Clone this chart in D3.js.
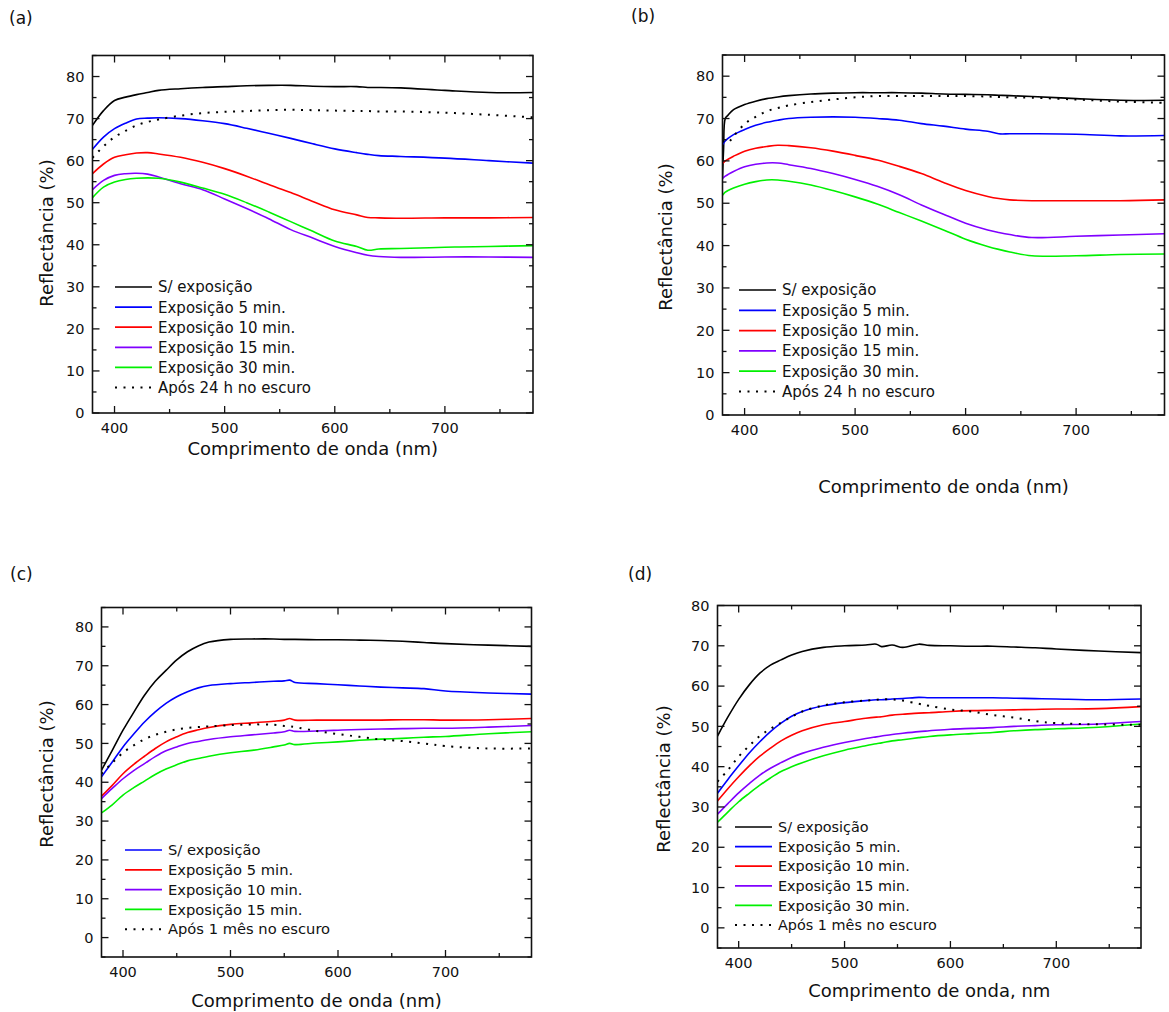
<!DOCTYPE html>
<html>
<head>
<meta charset="utf-8">
<script src="https://cdn.jsdelivr.net/npm/d3@7"></script>
<style>
  body { margin: 0; background: #fff; }
  svg text { font-family: "DejaVu Sans", Verdana, sans-serif; fill: #111; }
</style>
</head>
<body>
<svg id="chart" width="1169" height="1012"></svg>
<script>
// ---- data (wavelength in nm, reflectance in %) ----
var xTicks = [400, 500, 600, 700];
var colors = { black: "#000000", blue: "#0000ff", red: "#ff0000", purple: "#8000ff", green: "#00f000" };

// panel (a)
var waveA = [380, 390, 400, 410, 420, 430, 440, 460, 480, 500, 520, 540, 560, 580, 600, 620, 630, 640, 660, 700, 740, 780];
var aBlack  = [68.4, 71.9, 74.3, 75.1, 75.7, 76.2, 76.7, 77.1, 77.4, 77.6, 77.8, 77.9, 77.9, 77.7, 77.6, 77.6, 77.4, 77.4, 77.3, 76.7, 76.2, 76.2];
var aBlue   = [62.7, 65.6, 67.6, 68.9, 69.9, 70.1, 70.2, 70.0, 69.5, 68.8, 67.7, 66.5, 65.3, 64.0, 62.8, 61.9, 61.5, 61.2, 61.0, 60.6, 60.0, 59.4];
var aRed    = [56.9, 59.2, 60.8, 61.4, 61.8, 61.9, 61.6, 60.8, 59.6, 58.1, 56.3, 54.3, 52.4, 50.3, 48.3, 47.1, 46.5, 46.4, 46.3, 46.4, 46.4, 46.5];
var aPurple = [53.1, 55.3, 56.5, 56.9, 57.0, 56.8, 56.1, 54.5, 53.1, 50.9, 48.6, 46.2, 43.6, 41.6, 39.6, 38.1, 37.5, 37.2, 37.0, 37.1, 37.1, 37.0];
var aGreen  = [51.2, 53.7, 54.9, 55.5, 55.8, 55.9, 55.8, 54.9, 53.5, 52.0, 50.0, 47.8, 45.5, 43.2, 40.9, 39.6, 38.7, 39.0, 39.1, 39.4, 39.6, 39.8];
var aDark   = [60.7, 63.4, 65.6, 67.1, 68.4, 69.2, 69.8, 70.7, 71.3, 71.6, 71.8, 72.0, 72.1, 72.0, 71.9, 71.8, 71.8, 71.7, 71.7, 71.4, 70.9, 70.3];

// panel (b)
var waveB = [380, 381, 382.5, 385, 390, 400, 410, 420, 430, 440, 460, 480, 500, 520, 540, 560, 580, 600, 620, 630, 640, 660, 700, 740, 780];
var bBlack  = [56.0, 63.0, 70.0, 70.8, 72.1, 73.3, 74.1, 74.7, 75.1, 75.4, 75.8, 76.0, 76.1, 76.1, 76.1, 76.0, 75.8, 75.7, 75.6, 75.5, 75.4, 75.2, 74.7, 74.3, 74.3];
var bBlue   = [63.8, 64.2, 64.7, 65.3, 66.2, 67.4, 68.4, 69.1, 69.6, 70.0, 70.3, 70.4, 70.3, 70.0, 69.6, 68.8, 68.2, 67.5, 67.0, 66.4, 66.4, 66.4, 66.3, 65.9, 66.0];
var bRed    = [59.3, 59.6, 60.0, 60.4, 61.1, 62.3, 63.0, 63.4, 63.7, 63.6, 63.1, 62.3, 61.3, 60.2, 58.7, 57.0, 54.9, 53.0, 51.6, 51.1, 50.8, 50.6, 50.6, 50.6, 50.8];
var bPurple = [55.8, 56.1, 56.4, 56.8, 57.5, 58.6, 59.2, 59.5, 59.5, 59.1, 58.2, 57.0, 55.6, 54.0, 52.0, 49.6, 47.4, 45.3, 43.7, 43.1, 42.6, 41.9, 42.2, 42.5, 42.8];
var bGreen  = [51.9, 52.2, 52.6, 53.0, 53.6, 54.5, 55.1, 55.5, 55.5, 55.2, 54.3, 53.0, 51.5, 49.8, 47.8, 45.8, 43.7, 41.5, 39.8, 39.1, 38.5, 37.6, 37.6, 37.9, 38.0];
var bDark   = [64.5, 64.6, 64.4, 64.3, 65.8, 68.7, 70.4, 71.7, 72.5, 73.1, 73.9, 74.5, 75.0, 75.3, 75.3, 75.3, 75.3, 75.3, 75.2, 75.1, 75.0, 74.9, 74.5, 74.0, 73.7];

// panel (c)
var waveC = [380, 390, 400, 410, 420, 430, 440, 450, 460, 470, 480, 500, 520, 540, 550, 555, 560, 580, 600, 620, 640, 660, 680, 700, 740, 780];
var cBlack  = [43.1, 48.2, 53.4, 58.0, 62.4, 66.0, 68.8, 71.5, 73.6, 75.1, 76.1, 76.8, 76.9, 76.9, 76.8, 76.8, 76.8, 76.7, 76.7, 76.6, 76.5, 76.3, 76.0, 75.7, 75.3, 75.0];
var cBlue   = [41.4, 45.2, 49.1, 52.4, 55.5, 58.1, 60.3, 62.0, 63.3, 64.3, 64.9, 65.4, 65.7, 66.0, 66.1, 66.3, 65.7, 65.4, 65.1, 64.8, 64.5, 64.3, 64.1, 63.5, 63.0, 62.7];
var cRed    = [36.4, 39.2, 42.2, 44.6, 46.7, 48.7, 50.4, 51.7, 52.8, 53.5, 54.1, 54.9, 55.3, 55.7, 56.0, 56.4, 56.0, 56.0, 56.0, 56.0, 56.0, 56.1, 56.1, 56.0, 56.1, 56.4];
var cPurple = [35.8, 38.4, 40.9, 43.0, 44.8, 46.6, 48.1, 49.1, 50.0, 50.5, 51.0, 51.7, 52.2, 52.7, 53.0, 53.4, 53.1, 53.2, 53.4, 53.6, 53.7, 53.8, 53.9, 53.9, 54.2, 54.6];
var cGreen  = [32.1, 34.2, 36.7, 38.6, 40.3, 42.0, 43.4, 44.5, 45.5, 46.1, 46.7, 47.6, 48.2, 49.1, 49.6, 50.0, 49.7, 50.1, 50.4, 50.8, 51.1, 51.3, 51.6, 51.8, 52.5, 53.0];
var cDark   = [42.2, 45.0, 47.6, 49.5, 51.1, 52.2, 53.0, 53.6, 54.0, 54.2, 54.4, 54.7, 54.9, 54.8, 54.5, 54.4, 54.2, 53.2, 52.4, 51.7, 51.0, 50.6, 50.0, 49.3, 48.7, 48.7];

// panel (d)
var waveD = [380, 390, 400, 410, 420, 430, 440, 450, 460, 480, 500, 520, 530, 535, 545, 555, 570, 580, 600, 620, 640, 660, 680, 700, 740, 780];
var dBlack  = [47.6, 52.4, 56.7, 60.3, 63.2, 65.2, 66.5, 67.7, 68.6, 69.6, 70.0, 70.2, 70.4, 69.8, 70.2, 69.6, 70.4, 70.1, 70.0, 69.9, 69.9, 69.7, 69.5, 69.2, 68.7, 68.3];
var dBlue   = [33.4, 36.9, 40.2, 43.4, 46.2, 48.7, 50.8, 52.5, 53.7, 55.1, 55.9, 56.4, 56.6, 56.6, 56.8, 56.9, 57.2, 57.1, 57.1, 57.1, 57.1, 57.0, 56.9, 56.8, 56.6, 56.8];
var dRed    = [31.5, 34.6, 37.5, 40.2, 42.6, 44.6, 46.4, 47.8, 48.9, 50.4, 51.2, 52.0, 52.3, 52.4, 52.8, 53.0, 53.3, 53.4, 53.7, 53.9, 54.0, 54.1, 54.2, 54.3, 54.4, 54.9];
var dPurple = [28.2, 30.9, 33.5, 35.8, 37.9, 39.6, 41.0, 42.3, 43.3, 44.8, 46.0, 47.0, 47.4, 47.6, 48.0, 48.3, 48.7, 48.9, 49.3, 49.5, 49.7, 50.0, 50.2, 50.4, 50.6, 51.2];
var dGreen  = [26.2, 28.8, 31.3, 33.4, 35.4, 37.2, 38.8, 40.0, 41.0, 42.7, 44.1, 45.2, 45.7, 45.9, 46.4, 46.7, 47.2, 47.5, 47.9, 48.2, 48.5, 48.9, 49.2, 49.4, 49.8, 50.6];
var dDark   = [36.3, 39.2, 42.5, 45.2, 47.6, 49.4, 50.9, 52.4, 53.7, 55.2, 56.0, 56.4, 56.6, 56.7, 56.7, 56.4, 55.6, 55.1, 54.2, 53.7, 52.8, 52.2, 51.3, 50.8, 50.5, 50.4];

var legendAB = ["S/ exposição", "Exposição 5 min.", "Exposição 10 min.", "Exposição 15 min.", "Exposição 30 min.", "Após 24 h no escuro"];
var legendC  = ["S/ exposição", "Exposição 5 min.", "Exposição 10 min.", "Exposição 15 min.", "Após 1 mês no escuro"];
var legendD  = ["S/ exposição", "Exposição 5 min.", "Exposição 10 min.", "Exposição 15 min.", "Exposição 30 min.", "Após 1 mês no escuro"];

var svg = d3.select("#chart");
var DOTS = "2,6.5";

function panel(p) {
	var x = d3.scaleLinear().domain([380, 780]).range([p.left, p.right]);
	var y = d3.scaleLinear().domain(p.yDom).range([p.bottom, p.top]);
	var g = svg.append("g");

	g.append("text").attr("x", p.tagX).attr("y", p.tagY)
		.style("font-size", "17px").text(p.tag);

	var clipId = "clip" + p.tag.replace(/\W/g, "");
	svg.append("clipPath").attr("id", clipId).append("rect")
		.attr("x", p.left).attr("y", p.top)
		.attr("width", p.right - p.left).attr("height", p.bottom - p.top);

	var line = d3.line().curve(d3.curveCatmullRom.alpha(0.5))
		.x(function(d) { return x(d[0]); })
		.y(function(d) { return y(d[1]); });

	var plot = g.append("g").attr("clip-path", "url(#" + clipId + ")");
	p.series.forEach(function(s) {
		var pts = p.wave.map(function(w, i) { return [w, s.vals[i]]; });
		plot.append("path").datum(pts)
			.attr("d", line)
			.attr("fill", "none")
			.attr("stroke", s.color)
			.attr("stroke-width", s.dash ? 2 : 1.6)
			.attr("stroke-dasharray", s.dash ? DOTS : null);
	});

	// ticks inside, on all four sides
	var major = d3.range(Math.ceil(p.yDom[0] / 10) * 10, p.yDom[1] + 0.1, 10);
	var minor = d3.range(Math.ceil(p.yDom[0] / 5) * 5, p.yDom[1] + 0.1, 5)
		.filter(function(v) { return v % 10 !== 0; });
	var xMinor = [450, 550, 650, 750];

	var ax = g.append("g").attr("stroke", "#111").attr("stroke-width", 1.3);
	major.forEach(function(v) {
		ax.append("line").attr("x1", p.left).attr("x2", p.left + 7).attr("y1", y(v)).attr("y2", y(v));
		ax.append("line").attr("x1", p.right).attr("x2", p.right - 7).attr("y1", y(v)).attr("y2", y(v));
	});
	minor.forEach(function(v) {
		ax.append("line").attr("x1", p.left).attr("x2", p.left + 4).attr("y1", y(v)).attr("y2", y(v));
		ax.append("line").attr("x1", p.right).attr("x2", p.right - 4).attr("y1", y(v)).attr("y2", y(v));
	});
	xTicks.forEach(function(v) {
		ax.append("line").attr("x1", x(v)).attr("x2", x(v)).attr("y1", p.bottom).attr("y2", p.bottom - 7);
		ax.append("line").attr("x1", x(v)).attr("x2", x(v)).attr("y1", p.top).attr("y2", p.top + 7);
	});
	xMinor.forEach(function(v) {
		ax.append("line").attr("x1", x(v)).attr("x2", x(v)).attr("y1", p.bottom).attr("y2", p.bottom - 4);
		ax.append("line").attr("x1", x(v)).attr("x2", x(v)).attr("y1", p.top).attr("y2", p.top + 4);
	});
	g.append("rect")
		.attr("x", p.left).attr("y", p.top)
		.attr("width", p.right - p.left).attr("height", p.bottom - p.top)
		.attr("fill", "none").attr("stroke", "#111").attr("stroke-width", 1.6);

	major.filter(function(v) { return v >= 0; }).forEach(function(v) {
		g.append("text").attr("x", p.left - 8).attr("y", y(v)).attr("dy", "0.36em")
			.attr("text-anchor", "end").style("font-size", "14.5px").text(v);
	});
	xTicks.forEach(function(v) {
		g.append("text").attr("x", x(v)).attr("y", p.bottom + 15).attr("dy", "0.36em")
			.attr("text-anchor", "middle").style("font-size", "14.5px").text(v);
	});

	g.append("text").attr("x", (p.left + p.right) / 2).attr("y", p.xTitleY).attr("dy", "0.36em")
		.attr("text-anchor", "middle").style("font-size", "18px").text(p.xTitle);
	g.append("text")
		.attr("transform", "translate(" + p.yTitleX + "," + p.yTitleY + ") rotate(-90)")
		.attr("dy", "0.36em").attr("text-anchor", "middle")
		.style("font-size", "18px").text("Reflectância (%)");

	// legend
	var lg = g.append("g");
	p.legend.forEach(function(item, i) {
		var yy = p.legY + i * p.legStep;
		lg.append("line").attr("x1", p.legX).attr("x2", p.legX + 37)
			.attr("y1", yy).attr("y2", yy)
			.attr("stroke", item.color).attr("stroke-width", item.dash ? 2 : 1.7)
			.attr("stroke-dasharray", item.dash ? DOTS : null);
		lg.append("text").attr("x", p.legX + 43).attr("y", yy).attr("dy", "0.36em")
			.style("font-size", p.legFont).text(item.label);
	});
}

function seriesOf(k, dark) {
	return [
		{ vals: k[0], color: colors.black },
		{ vals: k[1], color: colors.blue },
		{ vals: k[2], color: colors.red },
		{ vals: k[3], color: colors.purple },
		{ vals: k[4], color: colors.green },
		{ vals: dark, color: "#000", dash: true }
	];
}

function legendOf(labels, cols) {
	return labels.map(function(l, i) {
		return cols[i] === "dot" ? { label: l, color: "#000", dash: true } : { label: l, color: cols[i] };
	});
}

var colsFull = [colors.black, colors.blue, colors.red, colors.purple, colors.green, "dot"];
var colsC = [colors.blue, colors.red, colors.purple, colors.green, "dot"];

panel({ tag: "(a)", tagX: 9, tagY: 24, left: 92.5, right: 533, top: 55.5, bottom: 413, yDom: [0, 85],
	wave: waveA, series: seriesOf([aBlack, aBlue, aRed, aPurple, aGreen], aDark),
	xTitle: "Comprimento de onda (nm)", xTitleY: 449, yTitleX: 47, yTitleY: 233,
	legend: legendOf(legendAB, colsFull), legX: 115, legY: 287, legStep: 20.1, legFont: "15px" });

panel({ tag: "(b)", tagX: 631, tagY: 22, left: 722.5, right: 1164.5, top: 55, bottom: 415, yDom: [0, 85],
	wave: waveB, series: seriesOf([bBlack, bBlue, bRed, bPurple, bGreen], bDark),
	xTitle: "Comprimento de onda (nm)", xTitleY: 487, yTitleX: 666, yTitleY: 237,
	legend: legendOf(legendAB, colsFull), legX: 739, legY: 290, legStep: 20.3, legFont: "15px" });

panel({ tag: "(c)", tagX: 10, tagY: 580, left: 101.5, right: 531.5, top: 607.5, bottom: 957, yDom: [-5, 85],
	wave: waveC, series: seriesOf([cBlack, cBlue, cRed, cPurple, cGreen], cDark),
	xTitle: "Comprimento de onda (nm)", xTitleY: 1001, yTitleX: 47, yTitleY: 774,
	legend: legendOf(legendC, colsC), legX: 125, legY: 850, legStep: 19.8, legFont: "14.7px" });

panel({ tag: "(d)", tagX: 628, tagY: 580, left: 717.5, right: 1141, top: 605.5, bottom: 948, yDom: [-5, 80],
	wave: waveD, series: seriesOf([dBlack, dBlue, dRed, dPurple, dGreen], dDark),
	xTitle: "Comprimento de onda, nm", xTitleY: 991, yTitleX: 664, yTitleY: 779,
	legend: legendOf(legendD, colsFull), legX: 735, legY: 827, legStep: 19.6, legFont: "14.4px" });
</script>
</body>
</html>
